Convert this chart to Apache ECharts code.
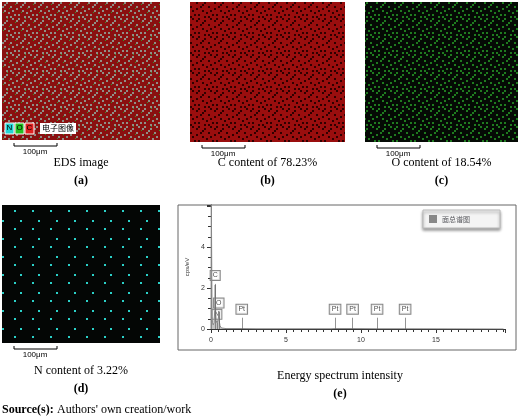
<!DOCTYPE html><html><head><meta charset="utf-8">
<script src="https://cdn.jsdelivr.net/npm/echarts@6/dist/echarts.min.js"></script>
<style>html,body{margin:0;padding:0;background:#fff}#c{width:520px;height:419px}</style></head><body><div id="c"></div>
<script>
// spectrum (keV, cps/eV)
const specEnergy = [0,0.02,0.05,0.07,0.1,0.15,0.2,0.25,0.28,0.31,0.34,0.37,0.39,0.41,0.45,0.49,0.52,0.55,0.6,0.7,1.0,2.0,2.05,2.1,3,8,8.27,9.44,11.07,12.94,19.5];
const specCounts = [0,6.5,6.5,0.6,0.3,0.2,0.3,0.9,2.15,0.9,0.4,0.35,0.45,0.3,0.25,0.5,0.85,0.4,0.15,0.05,0.02,0.02,0.05,0.02,0.01,0.01,0.02,0.02,0.01,0.01,0];
const peakNames = ['C','O','N','Pt','Pt','Pt','Pt','Pt'];
const peakEnergy = [0.28,0.52,0.39,2.05,8.27,9.44,11.07,12.94];
const peakHeight = [2.2,0.85,0.3,0.55,0.55,0.55,0.55,0.55];
const xTicks = [0,5,10,15];
const yTicks = [0,2,4];
const legendName = '面总谱图';
const mapCaptions = ['EDS image','C content of 78.23%','O content of 18.54%','N content of 3.22%'];
const panelLetters = ['(a)','(b)','(c)','(d)','(e)'];
const specCaption = 'Energy spectrum intensity';
const scaleText = '100μm';

// fixed speckle tile layouts (pixel positions in a 9x9 tile)
const dotsDense = [[0,0],[3,1],[6,0],[1,3],[5,3],[8,4],[2,5],[4,6],[7,7],[0,7],[3,8],[6,5],[8,1],[2,2],[5,8]];
const dotsSparse = [[1,2],[7,6]];
function tile(bg, fg, dots, fg2, dots2){
  const c=document.createElement('canvas');c.width=c.height=18;const x=c.getContext('2d');
  x.fillStyle=bg;x.fillRect(0,0,18,18);
  x.fillStyle=fg;dots.forEach(d=>x.fillRect(d[0]*2,d[1]*2,2,2));
  if(fg2){x.fillStyle=fg2;dots2.forEach(d=>x.fillRect(d[0]*2+1,d[1]*2,1,1));}
  return {image:c,repeat:'repeat'};
}
const chart = echarts.init(document.getElementById('c'));
const serif = 'Liberation Serif';
const maps = [
  {x:2,y:2,w:158,h:138,fill:tile('#8a1010','#8f8f86',dotsDense,'#2c9a2c',[[4,4],[7,2],[1,6],[3,0]])},
  {x:190,y:2,w:155,h:140,fill:tile('#9a0e0e','#300000',dotsDense)},
  {x:365,y:2,w:153,h:140,fill:tile('#050a05','#1f7a1f',dotsDense)},
  {x:2,y:205,w:158,h:138,fill:tile('#040605','#2bd0c8',dotsSparse)}
];
const g = [];
maps.forEach((m,i)=>{
  g.push({type:'rect',shape:{x:m.x,y:m.y,width:m.w,height:m.h},style:{fill:m.fill}});
  const by = m.y+m.h+6;
  g.push({type:'line',shape:{x1:m.x+12,y1:by,x2:m.x+55,y2:by},style:{stroke:'#000',lineWidth:1}});
  g.push({type:'line',shape:{x1:m.x+12,y1:by-3,x2:m.x+12,y2:by},style:{stroke:'#000'}});
  g.push({type:'line',shape:{x1:m.x+55,y1:by-3,x2:m.x+55,y2:by},style:{stroke:'#000'}});
  g.push({type:'text',x:m.x+33,y:by+2,style:{text:scaleText,font:'8px Liberation Sans',fill:'#000',align:'center'}});
  const cy = i<3?157:365;
  g.push({type:'text',x:m.x+m.w/2,y:cy,style:{text:mapCaptions[i],font:'12px '+serif,fill:'#000',align:'center'}});
  g.push({type:'text',x:m.x+m.w/2,y:cy+18,style:{text:panelLetters[i],font:'bold 12px '+serif,fill:'#000',align:'center'}});
});
[['N','#22d4d4'],['O','#22c022'],['C','#e02020']].forEach((c,i)=>{
  g.push({type:'rect',shape:{x:5+i*10,y:123,width:9,height:11},style:{fill:c[1],stroke:'#fff'}});
  g.push({type:'text',x:9.5+i*10,y:124,style:{text:c[0],font:'8px Liberation Sans',fill:'#000',align:'center'}});
});
g.push({type:'rect',shape:{x:40,y:123,width:36,height:11},style:{fill:'#fff'}});
g.push({type:'text',x:58,y:124,style:{text:'电子图像',font:'8px Noto Sans CJK SC',fill:'#000',align:'center'}});
g.push({type:'rect',shape:{x:178,y:205,width:338,height:145},style:{fill:'none',stroke:'#666',lineWidth:1}});
g.push({type:'text',x:340,y:370,style:{text:specCaption,font:'12px '+serif,fill:'#000',align:'center'}});
g.push({type:'text',x:340,y:388,style:{text:panelLetters[4],font:'bold 12px '+serif,fill:'#000',align:'center'}});
g.push({type:'text',x:2,y:404,style:{rich:{b:{font:'bold 12px '+serif,fill:'#000'},n:{font:'12px '+serif,fill:'#000'}},text:"{b|Source(s):} {n|Authors' own creation/work}"}});

chart.setOption({
  animation:false,
  graphic:g,
  grid:{left:211,top:205,width:294,height:124},
  legend:{right:20,top:210,itemWidth:8,itemHeight:8,padding:[5,30,5,6],backgroundColor:'#f4f4f4',borderColor:'#bbb',borderWidth:1,
    shadowColor:'rgba(0,0,0,0.4)',shadowBlur:3,shadowOffsetY:2,textStyle:{fontSize:7,fontFamily:'Noto Sans CJK SC'},data:[{name:legendName,icon:'rect',itemStyle:{color:'#888'}}]},
  xAxis:{type:'value',min:0,max:19.6,interval:5,
    axisLine:{lineStyle:{color:'#333'}},axisTick:{show:true,length:4,lineStyle:{color:'#333'}},
    minorTick:{show:true,splitNumber:10,length:3,lineStyle:{color:'#333'}},splitLine:{show:false},
    axisLabel:{fontSize:7,color:'#333',formatter:v=>xTicks.includes(v)?v:''}},
  yAxis:{type:'value',min:0,max:6.05,interval:2,name:'cps/eV',nameLocation:'middle',nameGap:14,nameTextStyle:{fontSize:6,color:'#333'},
    axisLine:{show:true,lineStyle:{color:'#333'}},axisTick:{show:true,length:4,lineStyle:{color:'#333'}},
    minorTick:{show:true,splitNumber:4,length:3,lineStyle:{color:'#333'}},splitLine:{show:false},
    axisLabel:{fontSize:7,color:'#333',margin:6,formatter:v=>yTicks.includes(v)?v:''}},
  series:[
    {name:legendName,type:'line',clip:true,symbol:'none',data:specEnergy.map((e,i)=>[e,specCounts[i]]),
      lineStyle:{color:'#888',width:1},areaStyle:{color:'#aaa'},itemStyle:{color:'#888'}},
    {type:'scatter',symbolSize:0,silent:true,data:peakEnergy.map((e,i)=>({value:[e,peakHeight[i]],name:peakNames[i]})),
      label:{show:true,position:'top',distance:4,formatter:p=>p.name,fontSize:7,color:'#222',backgroundColor:'#fff',borderColor:'#666',borderWidth:1,padding:[1,2]},
      markLine:{silent:true,symbol:'none',lineStyle:{color:'#666',width:0.7,type:'solid'},label:{show:false},
        data:peakEnergy.map((e,i)=>[{coord:[e,0]},{coord:[e,peakHeight[i]]}])}}
  ]
});
</script></body></html>
